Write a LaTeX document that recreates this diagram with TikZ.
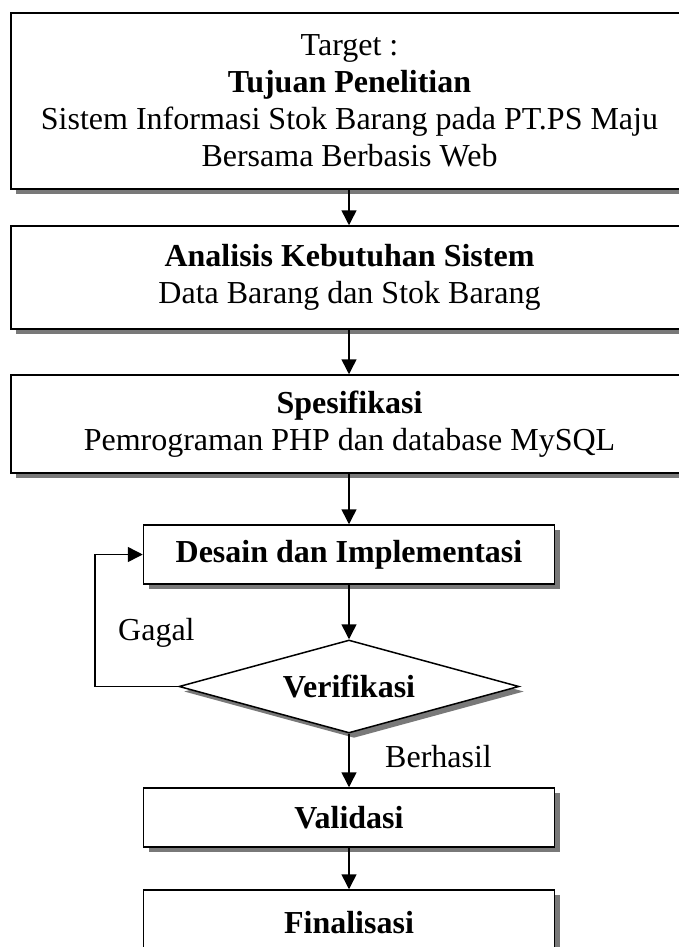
\documentclass[tikz,border=0pt]{standalone}
\usepackage{fontspec}
\setmainfont{Liberation Serif}
\usetikzlibrary{shapes.geometric,arrows.meta,shadows}
\begin{document}
\begin{tikzpicture}[x=1pt,y=-1pt,
  font=\fontsize{32pt}{37pt}\selectfont,
  boxshadow/.style={drop shadow={shadow xshift=5pt,shadow yshift=-5pt,fill=gray!95!black,opacity=1}},
  flowbox/.style={draw=black,line width=1.5pt,fill=white,align=center,inner sep=0pt,boxshadow},
  decide/.style={diamond,draw=black,line width=1.5pt,fill=white,inner sep=0pt,aspect=3.66,boxshadow},
  arr/.style={line width=1.5pt,-{Triangle[length=15pt,width=15pt]}},
  lbl/.style={anchor=west,inner sep=0pt}]
\useasboundingbox (0,0) rectangle (678,947);
\node[flowbox,minimum width=677pt,minimum height=176pt] (b1) at (349.5,101)
  {Target :\\\textbf{Tujuan Penelitian}\\Sistem Informasi Stok Barang pada PT.PS Maju\\Bersama Berbasis Web};
\node[flowbox,minimum width=677pt,minimum height=103pt] (b2) at (349.5,277.5)
  {\textbf{Analisis Kebutuhan Sistem}\\Data Barang dan Stok Barang};
\node[flowbox,minimum width=677pt,minimum height=98pt] (b3) at (349.5,424)
  {\textbf{Spesifikasi}\\Pemrograman PHP dan database MySQL};
\node[flowbox,minimum width=411pt,minimum height=59pt] (des) at (349,554.5)
  {\textbf{Desain dan Implementasi}};
\node[decide,minimum width=340pt,minimum height=93pt] (ver) at (349,686.5)
  {\textbf{Verifikasi}};
\node[flowbox,minimum width=411pt,minimum height=59pt] (val) at (349,817.5)
  {\textbf{Validasi}};
\node[flowbox,minimum width=411pt,minimum height=66pt] (fin) at (349,923)
  {\textbf{Finalisasi}};
\draw[arr] (b1.south -| des.north) -- (b2.north -| des.north);
\draw[arr] (b2.south -| des.north) -- (b3.north -| des.north);
\draw[arr] (b3.south -| des.north) -- (des.north);
\draw[arr] (des.south) -- (ver.north);
\draw[arr] (ver.south) -- (val.north);
\draw[arr] (val.south) -- (fin.north);
\coordinate (loopcorner) at (95,686.5);
\draw[arr] (ver.west) -- (loopcorner) |- (des.west);
\node[lbl] (gagal) at (118,633) {Gagal};
\node[lbl] (berhasil) at (385,757) {Berhasil};
\end{tikzpicture}
\end{document}
